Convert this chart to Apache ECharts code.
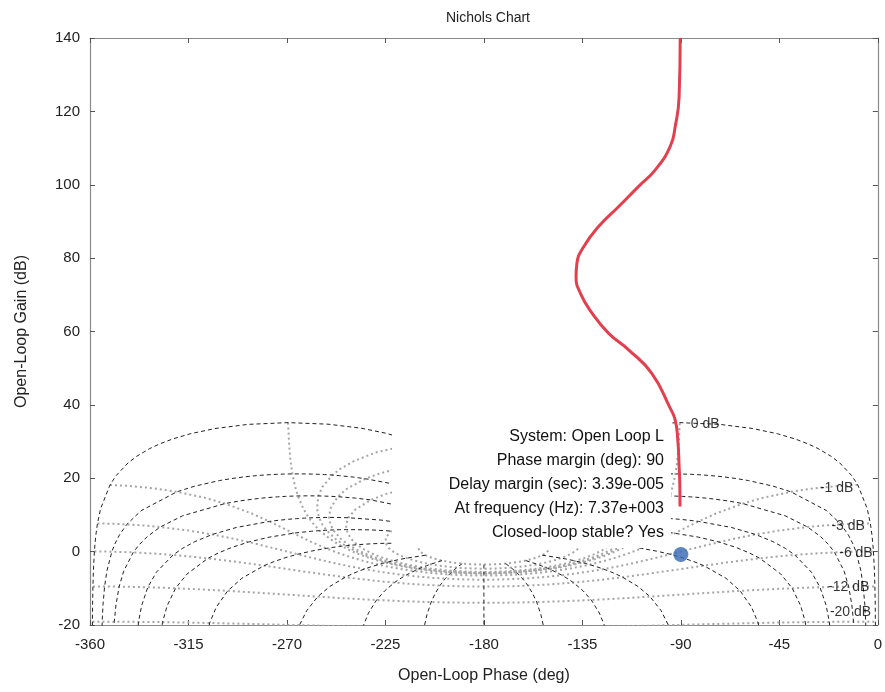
<!DOCTYPE html>
<html>
<head>
<meta charset="utf-8">
<title>Nichols Chart</title>
<script src="https://cdn.jsdelivr.net/npm/echarts@6/dist/echarts.min.js"></script>
<style>
  html, body { margin: 0; padding: 0; background: #fff; }
  #chart { width: 885px; height: 692px; }
</style>
</head>
<body>
<div id="chart"></div>
<script>
// open-loop response L
var loopPhase = [-90.3, -90.8, -92.6, -94.9, -101.8, -109.4, -118.5, -127.6, -134.4, -137.5, -137.9,
                 -135.9, -130.6, -123.0, -113.9, -103.3, -94.9, -92.6, -91.4, -90.8, -90.5, -90.4];
var loopGain = [140, 124, 115.8, 110.4, 104, 99.5, 94, 88.6, 83.1, 78.6, 74.9,
                70.4, 65, 59.5, 55, 48.6, 39.1, 35.9, 30.4, 23.2, 18.7, 12.3];
// gain crossover (phase margin point)
var marginPoint = [-90, -0.8];

// Nichols grid levels (closed-loop gain in dB, closed-loop phase in deg)
var clGainLines = [6, 3, 1, 0.5, 0.25, 0, -1, -3, -6, -12, -20, -40];
var clPhaseLines = [1, 5, 10, 20, 30, 50, 90, 120, 150, 180];
var clGainSteps = [6, 3, 2, 1, 0.75, 0.5, 0.4, 0.3, 0.25, 0.2, 0.15, 0.1, 0.05, 0, -0.05, -0.1, -0.15,
                   -0.2, -0.25, -0.3, -0.4, -0.5, -0.75, -1, -2, -3, -4, -5, -6, -9, -12, -16, -20, -30, -40];
var clPhaseSteps = [1, 2, 3, 4, 5, 7.5, 10, 15, 20, 25, 30, 40, 50, 60, 70, 80, 90, 100,
                    110, 120, 130, 140, 150, 160, 170, 175, 180];
// labelled gain lines and the closed-loop phase where each label sits
var labelGains = [0, -1, -3, -6, -12, -20];
var labelAt = [1, 2, 4, 5, 10, 10];

var tipLines = [
  'System: Open Loop L',
  'Phase margin (deg): 90',
  'Delay margin (sec): 3.39e-005',
  'At frequency (Hz): 7.37e+003',
  'Closed-loop stable? Yes'
];

var FONT = 'Liberation Sans, Arial, sans-serif';

// closed loop T = m e^(jp)  ->  open loop L = T / (1 - T)
function openLoop(gDb, pDeg) {
  var m = Math.pow(10, gDb / 20), p = pDeg * Math.PI / 180;
  var re = m * Math.cos(p), im = m * Math.sin(p);
  var dr = 1 - re, di = -im, d2 = dr * dr + di * di;
  var hr = (re * dr + im * di) / d2, hi = (im * dr - re * di) / d2;
  var gain = 20 * Math.log10(Math.sqrt(hr * hr + hi * hi));
  var ph = ((Math.atan2(hi, hr) * 180 / Math.PI + 360) % 360) - 360;
  return [ph, gain];
}

var series = [];

// constant closed-loop phase lines (black dashed)
clPhaseLines.forEach(function (p1) {
  var sides = p1 === 180 ? [p1] : [p1, 360 - p1];
  sides.forEach(function (p) {
    series.push({
      type: 'line', silent: true, symbol: 'none', z: 3,
      lineStyle: { color: '#222', width: 1, type: [4, 3] },
      data: clGainSteps.map(function (g) { return openLoop(g, p); })
    });
  });
});

// constant closed-loop gain lines (grey dotted)
var phaseRun = clPhaseSteps.concat(clPhaseSteps.slice(0, -1).reverse().map(function (p) { return 360 - p; }));
clGainLines.forEach(function (g) {
  series.push({
    type: 'line', silent: true, symbol: 'none', z: 2,
    lineStyle: { color: '#a5a5a5', width: 2, type: [2, 3] },
    data: phaseRun.map(function (p) { return openLoop(g, p); })
  });
});

// gain line labels
var labelOffsets = [[6, 2], [-2, 2], [0, 2], [0, 1], [0, 0], [-3, -10]];
series.push({
  type: 'scatter', silent: true, symbolSize: 0, z: 4,
  data: labelGains.map(function (g, i) {
    var pt = openLoop(g, 360 - labelAt[i]);
    return {
      value: pt,
      label: {
        show: true, formatter: g + ' dB',
        position: i === 0 ? 'right' : 'inside',
        offset: labelOffsets[i], color: '#000', fontSize: 14, fontFamily: FONT
      }
    };
  })
});

// open-loop response
series.push({
  type: 'line', name: 'L', smooth: true, symbol: 'none', z: 20,
  lineStyle: { color: '#e2404e', width: 3 },
  data: loopPhase.map(function (p, i) { return [p, loopGain[i]]; })
});
series.push({
  type: 'scatter', z: 21, symbolSize: 15,
  itemStyle: { color: '#3467b2' },
  data: [marginPoint]
});

var axisCommon = {
  type: 'value',
  axisLine: { show: true, onZero: false, lineStyle: { color: '#8a8a8a', width: 1.2 } },
  axisTick: { show: true, inside: true, length: 5, lineStyle: { color: '#555' } },
  splitLine: { show: false }
};

var chart = echarts.init(document.getElementById('chart'));
chart.setOption({
  animation: false,
  backgroundColor: '#fff',
  title: {
    text: 'Nichols Chart', left: 483, top: 6, textAlign: 'center',
    textStyle: { fontSize: 14, fontWeight: 'normal', color: '#222', fontFamily: FONT }
  },
  grid: { left: 90, right: 5, top: 38, bottom: 67 },
  xAxis: [
    Object.assign({}, axisCommon, {
      min: -360, max: 0, interval: 45, position: 'bottom',
      name: 'Open-Loop Phase (deg)', nameLocation: 'middle', nameGap: 43,
      nameTextStyle: { fontSize: 16, color: '#222', fontFamily: FONT },
      axisLabel: { fontSize: 15, color: '#222', margin: 12, fontFamily: FONT }
    }),
    Object.assign({}, axisCommon, {
      min: -360, max: 0, interval: 45, position: 'top', axisLabel: { show: false }
    })
  ],
  yAxis: [
    Object.assign({}, axisCommon, {
      min: -20, max: 140, interval: 20, position: 'left',
      name: 'Open-Loop Gain (dB)', nameLocation: 'middle', nameGap: 60,
      nameTextStyle: { fontSize: 16, color: '#222', fontFamily: FONT },
      axisLabel: { fontSize: 15, color: '#222', margin: 10, fontFamily: FONT }
    }),
    Object.assign({}, axisCommon, {
      min: -20, max: 140, interval: 20, position: 'right', axisLabel: { show: false }
    })
  ],
  graphic: [
    { type: 'rect', z: 10, shape: { x: 392, y: 414, width: 279, height: 134 }, style: { fill: '#fff' } }
  ].concat(tipLines.map(function (t, i) {
    return {
      type: 'text', z: 11, x: 664, y: 437 + i * 23.8,
      style: { text: t, align: 'right', verticalAlign: 'middle', fill: '#111', font: '16px ' + FONT }
    };
  })),
  series: series
});
</script>
</body>
</html>
